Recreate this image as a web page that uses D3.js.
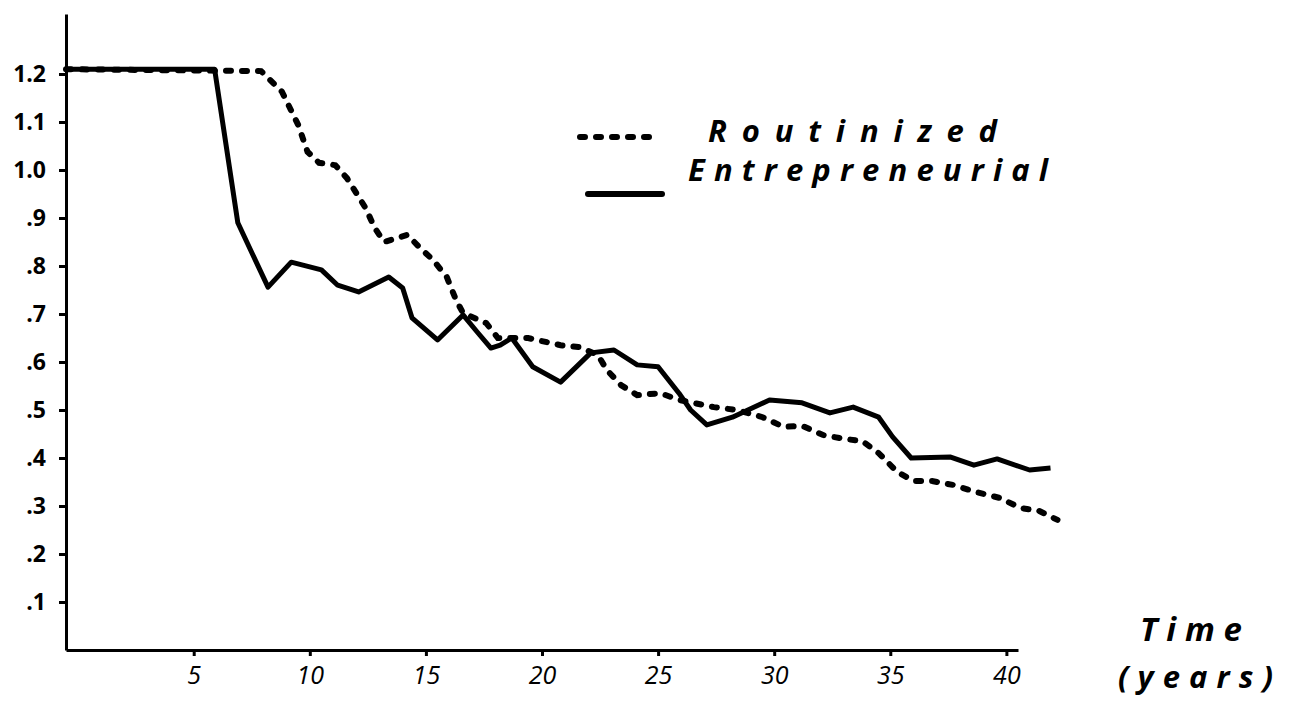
<!DOCTYPE html>
<html>
<head>
<meta charset="utf-8">
<script src="https://cdn.jsdelivr.net/npm/d3@7"></script>
<style>
  body { margin: 0; background: #fff; }
  .axis path, .axis line { stroke: #000; stroke-width: 3; }
  .axis text { fill: #000; font-family: "Open Sans", sans-serif; }
  .hand { font-family: "Open Sans", sans-serif; font-style: italic; font-weight: bold; fill: #000; }
</style>
</head>
<body>
<div id="svg"></div>
<script>
// years since founding
var entYears = [-0.5, 5.9, 6.9, 8.2, 9.2, 10.5, 11.2, 12.1, 13.4, 14.0, 14.4, 15.5, 16.6, 17.2, 17.8, 18.2, 18.7,
    19.6, 20.8, 22.1, 23.1, 24.1, 25.0, 25.9, 26.4, 27.1, 28.2, 29.8, 31.2, 32.4, 33.4, 34.5, 35.1, 35.9,
    37.6, 38.6, 39.6, 41.0, 41.9];
var entValues = [1.21, 1.21, 0.89, 0.756, 0.808, 0.792, 0.76, 0.746, 0.777, 0.754, 0.692, 0.646, 0.698, 0.663, 0.629, 0.635, 0.65,
    0.59, 0.558, 0.619, 0.625, 0.594, 0.59, 0.535, 0.5, 0.469, 0.485, 0.521, 0.515, 0.494, 0.506, 0.485, 0.444, 0.4,
    0.402, 0.385, 0.398, 0.375, 0.379];

var rouYears = [-0.5, 7.9, 8.8, 9.5, 9.9, 10.4, 11.1, 11.6, 12.4, 12.8, 13.2, 14.2, 14.7, 15.3, 15.9, 16.3, 16.6,
    17.6, 18.1, 19.4, 20.8, 21.6, 22.4, 22.8, 23.4, 24.1, 25.1, 25.9, 27.4, 28.4, 29.5, 30.4, 31.2, 32.1,
    33.0, 33.8, 34.5, 35.3, 36.0, 36.8, 37.7, 38.7, 39.7, 40.6, 41.4, 42.2];
var rouValues = [1.21, 1.206, 1.163, 1.094, 1.038, 1.015, 1.01, 0.983, 0.921, 0.879, 0.85, 0.865, 0.84, 0.813, 0.777, 0.729, 0.702,
    0.681, 0.65, 0.65, 0.635, 0.631, 0.615, 0.583, 0.552, 0.531, 0.535, 0.521, 0.506, 0.5, 0.485, 0.465, 0.467, 0.448,
    0.44, 0.435, 0.41, 0.371, 0.352, 0.352, 0.344, 0.329, 0.317, 0.296, 0.29, 0.271];

var xTicks = [5, 10, 15, 20, 25, 30, 35, 40];
var yTicks = [0.1, 0.2, 0.3, 0.4, 0.5, 0.6, 0.7, 0.8, 0.9, 1.0, 1.1, 1.2];
var seriesNames = ["Routinized", "Entrepreneurial"];

var width = 1290,
    height = 712;

var svg = d3.select("#svg").append("svg")
    .attr("width", width)
    .attr("height", height);

var x = d3.scaleLinear()
    .domain([-0.5, 40.5])
    .range([66, 1018]);

var y = d3.scaleLinear()
    .domain([0, 1.325])
    .range([650, 14]);

// axes
svg.append("g")
    .attr("class", "axis")
    .attr("transform", "translate(0,650)")
    .call(d3.axisBottom(x).tickValues(xTicks).tickSize(6).tickSizeOuter(0).tickPadding(10))
    .selectAll("text")
    .style("font-size", "25px")
    .style("font-style", "italic");

svg.append("g")
    .attr("class", "axis")
    .attr("transform", "translate(66,0)")
    .call(d3.axisLeft(y).tickValues(yTicks).tickSize(7).tickSizeOuter(0).tickPadding(13)
        .tickFormat(function (d) { return d >= 1 ? d3.format(".1f")(d) : "." + Math.round(d * 10); }))
    .selectAll("text")
    .style("font-size", "23px")
    .style("font-weight", "bold");

var line = d3.line()
    .x(function (d) { return x(d[0]); })
    .y(function (d) { return y(d[1]); });

var rou = d3.zip(rouYears, rouValues);
var ent = d3.zip(entYears, entValues);

svg.append("path")
    .datum(rou)
    .attr("d", line)
    .attr("fill", "none")
    .attr("stroke", "#000")
    .attr("stroke-width", 6)
    .attr("stroke-linecap", "round")
    .attr("stroke-dasharray", "5,11");

svg.append("path")
    .datum(ent)
    .attr("d", line)
    .attr("fill", "none")
    .attr("stroke", "#000")
    .attr("stroke-width", 5)
    .attr("stroke-linejoin", "round");

// legend
legend(580, 137, 708, 142, seriesNames[0], "5,11", 289);
legend(588, 194, 688, 181, seriesNames[1], null, 360);

function legend(x0, ly, tx, ty, text, dash, len) {
    svg.append("line")
        .attr("x1", x0)
        .attr("x2", x0 + 74)
        .attr("y1", ly)
        .attr("y2", ly)
        .attr("stroke", "#000")
        .attr("stroke-width", 6)
        .attr("stroke-linecap", "round")
        .attr("stroke-dasharray", dash);
    svg.append("text")
        .attr("class", "hand")
        .attr("x", tx)
        .attr("y", ty)
        .attr("textLength", len)
        .attr("lengthAdjust", "spacing")
        .style("font-size", "31px")
        .text(text);
}

// axis title
svg.append("text")
    .attr("class", "hand")
    .attr("x", 1140)
    .attr("y", 641)
    .attr("textLength", 102)
    .attr("lengthAdjust", "spacing")
    .style("font-size", "33px")
    .text("Time");

svg.append("text")
    .attr("class", "hand")
    .attr("x", 1118)
    .attr("y", 688)
    .attr("textLength", 155)
    .attr("lengthAdjust", "spacing")
    .style("font-size", "31px")
    .text("(years)");
</script>
</body>
</html>
